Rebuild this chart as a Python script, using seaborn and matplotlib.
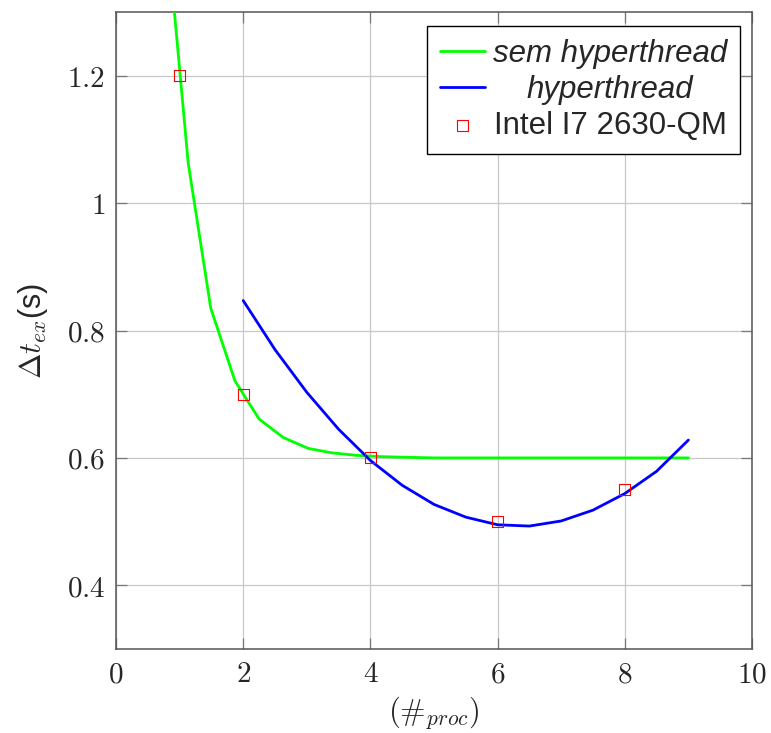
import matplotlib
matplotlib.use("Agg")
import matplotlib.pyplot as plt
import seaborn as sns
import pandas as pd

# green curve: "sem hyperthread"
green_x = [0.90, 1.135, 1.49, 1.87, 2.25, 2.63, 3.02, 3.39, 3.78, 4.17, 4.56, 5.0, 6.0, 7.0, 8.0, 9.0]
green_y = [1.32, 1.063, 0.835, 0.721, 0.661, 0.632, 0.615, 0.608, 0.604, 0.602, 0.601, 0.600, 0.600, 0.600, 0.600, 0.600]

# blue curve: "hyperthread"
blue_x = [2.0, 2.5, 3.0, 3.5, 4.0, 4.5, 5.0, 5.5, 6.0, 6.5, 7.0, 7.5, 8.0, 8.5, 9.0]
blue_y = [0.847, 0.770, 0.703, 0.645, 0.596, 0.557, 0.527, 0.507, 0.495, 0.493, 0.501, 0.518, 0.544, 0.579, 0.628]

# measured points: "Intel I7 2630-QM"
meas_x = [1, 2, 4, 6, 8]
meas_y = [1.2, 0.7, 0.6, 0.5, 0.55]

x_ticks = [0, 2, 4, 6, 8, 10]
y_ticks = [0.4, 0.6, 0.8, 1.0, 1.2]
y_tick_labels = ["0.4", "0.6", "0.8", "1", "1.2"]

sns.set_style("ticks")
plt.rcParams["mathtext.fontset"] = "cm"
plt.rcParams["font.family"] = ["Liberation Sans", "DejaVu Sans"]

fig = plt.figure(figsize=(7.71, 7.33), dpi=100)
ax = fig.add_axes([116/771, 1-649/733, 636/771, 637/733])

gdf = pd.DataFrame({"x": green_x, "y": green_y})
bdf = pd.DataFrame({"x": blue_x, "y": blue_y})
mdf = pd.DataFrame({"x": meas_x, "y": meas_y})

sns.lineplot(data=gdf, x="x", y="y", ax=ax, color="#00ff00", lw=2.0,
             sort=False, estimator=None, label="sem hyperthread", zorder=3)
sns.lineplot(data=bdf, x="x", y="y", ax=ax, color="#0000ff", lw=2.0,
             sort=False, estimator=None, label="hyperthread", zorder=3)
sns.scatterplot(data=mdf, x="x", y="y", ax=ax, marker="s", s=62,
                facecolor="none", edgecolor="#ff0000", linewidth=0.8,
                label="Intel I7 2630-QM", zorder=4)

ax.set_xlim(0, 10)
ax.set_ylim(0.3, 1.3)
ax.set_xticks(x_ticks)
ax.set_xticklabels([f"${v}$" for v in x_ticks])
ax.set_yticks(y_ticks)
ax.set_yticklabels([f"${v}$" for v in y_tick_labels])
ax.tick_params(axis="both", which="both", direction="in", length=8, width=0.9,
               color="#777777", labelsize=21, top=True, right=True, pad=8)
ax.grid(True, color="#c8c8c8", lw=0.9)
ax.set_axisbelow(True)
for sp in ax.spines.values():
    sp.set_color("#555555")
    sp.set_linewidth(1.1)

ax.set_xlabel(r"$(\#_{proc})$", fontsize=22, labelpad=4)
ax.set_ylabel(r"$\Delta t_{ex}$(s)", fontsize=22, labelpad=12)

leg = ax.legend(loc="upper right", bbox_to_anchor=(0.981, 0.978), borderaxespad=0,
                fontsize=22.5, frameon=True, fancybox=False, edgecolor="black",
                framealpha=1, handlelength=1.45, handletextpad=0.26,
                labelspacing=0.2, borderpad=0.4)
leg.get_frame().set_linewidth(1.0)
texts = leg.get_texts()
texts[0].set_fontstyle("italic")
texts[1].set_fontstyle("italic")
fig.canvas.draw()
renderer = fig.canvas.get_renderer()
widths = [t.get_window_extent(renderer).width for t in texts]
shift = max(widths)
for t, w in zip(texts, widths):
    t.set_position(((shift - w) / 2, 0))

fig.savefig("out.png", dpi=100)
